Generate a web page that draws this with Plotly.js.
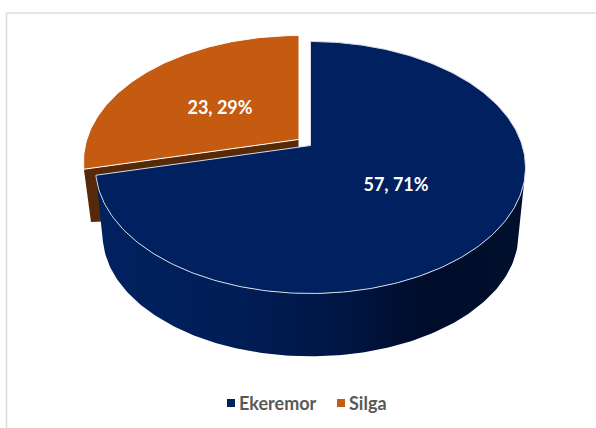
<!DOCTYPE html>
<html>
<head>
<meta charset="utf-8">
<script src="https://cdn.plot.ly/plotly-3.0.1.min.js"></script>
<style>html,body{margin:0;padding:0;background:#fff}#chart{width:596px;height:428px}</style>
</head>
<body>
<div id="chart"></div>
<script>
// Sample counts per site
const categories = ["Ekeremor", "Silga"];
const counts = [57, 23];
const topColors = ["#002060", "#C55A11"];
const total = counts.reduce((a, b) => a + b, 0);
const labels = counts.map(v => v + ", " + Math.round(v / total * 100) + "%");

// Tilted disc: a circle seen in perspective, drawn in pixel-sized axis units
const disc = {cx: 310.5, cy: 167.5, a: 211.7, b: 126, c: 22, p: 0.1746};
const lowerScale = 0.967;
const navyDrop = 67;
const sliceDrop = 53;
const explode = {dx: -12, dy: -6};

function project(deg, scale, dx, dy) {
  const t = deg * Math.PI / 180;
  const u = Math.sin(t), v = Math.cos(t);
  const den = 1 + disc.p * v;
  return [
    disc.cx + dx + scale * disc.a * u / den,
    disc.cy + dy - scale * (disc.b * v + disc.c) / den
  ];
}
function arc(from, to, scale, dx, dy) {
  const pts = [];
  const n = Math.max(2, Math.round(Math.abs(to - from)));
  for (let i = 0; i <= n; i++) pts.push(project(from + (to - from) * i / n, scale, dx, dy));
  return pts;
}
function apex(scale, dx, dy) {
  return [disc.cx + dx, disc.cy + dy - scale * disc.c];
}
function poly(pts, extra) {
  return Object.assign({
    x: pts.map(p => p[0]), y: pts.map(p => p[1]),
    mode: "lines", fill: "toself", showlegend: false, hoverinfo: "skip"
  }, extra);
}

const sweep = counts[0] / total * 360;

// Cut face of the pulled-out slice
const sliceLeftTop = project(sweep, 1, explode.dx, explode.dy);
const sliceLeftLow = project(sweep, lowerScale, explode.dx, explode.dy + sliceDrop);
const sliceCut = poly([
  sliceLeftTop, sliceLeftLow,
  apex(lowerScale, explode.dx, explode.dy + sliceDrop + 20),
  apex(1, explode.dx, explode.dy)
], {fillcolor: "#562A08", line: {width: 0, color: "#562A08"}});

// Curved side of the large slice
const navyWall = poly(
  arc(106, sweep, 1, 0, 0).concat(arc(sweep, 106, lowerScale, 0, navyDrop)),
  {
    line: {width: 0, color: "#001a50"},
    fillgradient: {
      type: "horizontal",
      colorscale: [[0, "#00225f"], [0.3, "#001e58"], [0.55, "#001746"], [0.78, "#000c2a"], [1, "#00102d"]]
    }
  }
);

// Top faces
const sliceTop = poly(
  [apex(1, explode.dx, explode.dy)].concat(arc(sweep, 360, 1, explode.dx, explode.dy)),
  {fillcolor: topColors[1], line: {width: 1, color: "#ffffff"}}
);
const navyTop = poly(
  [apex(1, 0, 0)].concat(arc(0, sweep, 1, 0, 0)).concat([apex(1, 0, 0)]),
  {fillcolor: topColors[0], line: {width: 1, color: "#d6dbe6"}}
);

// Slice value labels
const valueLabels = {
  x: [396, 220], y: [186, 109], text: labels,
  mode: "text", textposition: "middle center",
  textfont: {family: "Lato", size: 18, weight: 700, color: "#ffffff"},
  showlegend: false, hoverinfo: "skip"
};

// Key below the chart
const keyMarks = {
  x: [231, 341], y: [403, 403],
  mode: "markers",
  marker: {symbol: "square", size: 8, color: topColors},
  showlegend: false, hoverinfo: "skip"
};
const keyText = {
  x: [239, 349], y: [405, 405], text: categories,
  mode: "text", textposition: "middle right",
  textfont: {family: "Lato", size: 18, weight: 700, color: "#595959"},
  showlegend: false, hoverinfo: "skip"
};

const hidden = {visible: false, fixedrange: true};
Plotly.newPlot("chart", [sliceCut, navyWall, sliceTop, navyTop, valueLabels, keyMarks, keyText], {
  width: 596, height: 428,
  margin: {l: 0, r: 0, t: 0, b: 0},
  paper_bgcolor: "#ffffff", plot_bgcolor: "#ffffff",
  xaxis: Object.assign({range: [0, 596]}, hidden),
  yaxis: Object.assign({range: [428, 0]}, hidden),
  shapes: [
    {type: "line", xref: "x", yref: "y", x0: 6.5, x1: 596, y0: 13, y1: 13, line: {color: "#dcdcdc", width: 1.5}},
    {type: "line", xref: "x", yref: "y", x0: 6.5, x1: 6.5, y0: 13, y1: 428, line: {color: "#dcdcdc", width: 1.5}}
  ]
}, {displayModeBar: false, staticPlot: true});
</script>
</body>
</html>
